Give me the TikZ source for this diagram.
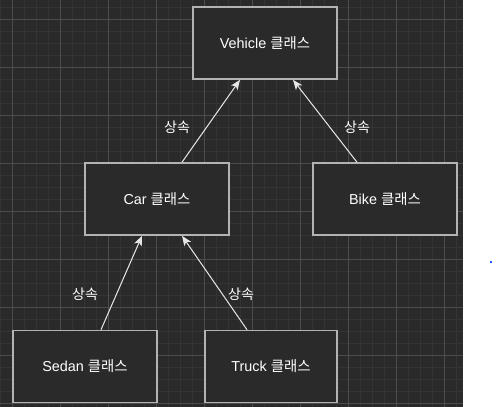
\documentclass[tikz,border=0pt]{standalone}
\usepackage{fontspec}
\setmainfont{Liberation Sans}
\newfontfamily\krfont{Noto Sans CJK KR}
\usepackage{tikz}
\usetikzlibrary{arrows.meta}
\definecolor{canvas}{HTML}{2A2A2A}
\definecolor{minorgrid}{HTML}{343434}
\definecolor{majorgrid}{HTML}{4C4C4C}
\definecolor{boxline}{HTML}{B3B3B3}
\definecolor{edgeline}{HTML}{E6E6E6}
\definecolor{cursorblue}{HTML}{1F5BFF}
\tikzset{
    %Define standard arrow tip
    >={Stealth[length=7.5pt,width=6pt,inset=2pt]},
    %Define style for class boxes
    classbox/.style={
           rectangle,
           draw=boxline, line width=1.2pt,
           fill=canvas,
           minimum width=108pt,
           minimum height=54pt,
           text=white,
           font=\fontsize{10.8pt}{12pt}\selectfont,
           text centered},
    %Define style for edge labels
    inherit/.style={
           text=white,
           font=\fontsize{10.5pt}{12pt}\selectfont\krfont,
           inner sep=1pt},
    % Define arrow style
    pil/.style={
           ->,
           draw=edgeline,
           fill=edgeline,
           line width=0.75pt}
}

\begin{document}
\begin{tikzpicture}[x=0.75pt,y=-0.75pt]
\useasboundingbox (0,0) rectangle (504,407);

 %canvas and grid
\fill[canvas] (0,0) rectangle (463,407);
\foreach \gx in {0,12,...,456}
    \draw[minorgrid,line width=0.75pt] (\gx,0) -- (\gx,407);
\foreach \gy in {7,19,...,403}
    \draw[minorgrid,line width=0.75pt] (0,\gy) -- (463,\gy);
\foreach \gx in {12,60,...,456}
    \draw[majorgrid,line width=0.75pt] (\gx,0) -- (\gx,407);
\foreach \gy in {19,67,...,403}
    \draw[majorgrid,line width=0.75pt] (0,\gy) -- (463,\gy);
\fill[cursorblue] (490,261) rectangle (492,263);

 %nodes
\node[classbox] (vehicle) at (265,43) {Vehicle {\krfont 클래스}};
\node[classbox] (car) at (157,199) {Car {\krfont 클래스}};
\node[classbox] (bike) at (385,199) {Bike {\krfont 클래스}};
\node[classbox] (sedan) at (85,366.5) {Sedan {\krfont 클래스}};
\node[classbox, minimum width=99pt] (truck) at (271,366.5) {Truck {\krfont 클래스}};

 %edges
\draw[pil] ([xshift=18.75pt]car.north) -- ([xshift=-18.75pt]vehicle.south);
\draw[pil] ([xshift=-21pt]bike.north) -- ([xshift=21pt]vehicle.south);
\draw[pil] ([xshift=12pt]sedan.north) -- ([xshift=-11.25pt]car.south);
\draw[pil] ([xshift=-18pt]truck.north) -- ([xshift=18.75pt]car.south);

 %labels
\node[inherit] (lcar) at (177,127) {상속};
\node[inherit] (lbike) at (357,127) {상속};
\node[inherit] (lsedan) at (85,294) {상속};
\node[inherit] (ltruck) at (241,294) {상속};

\end{tikzpicture}
\end{document}
